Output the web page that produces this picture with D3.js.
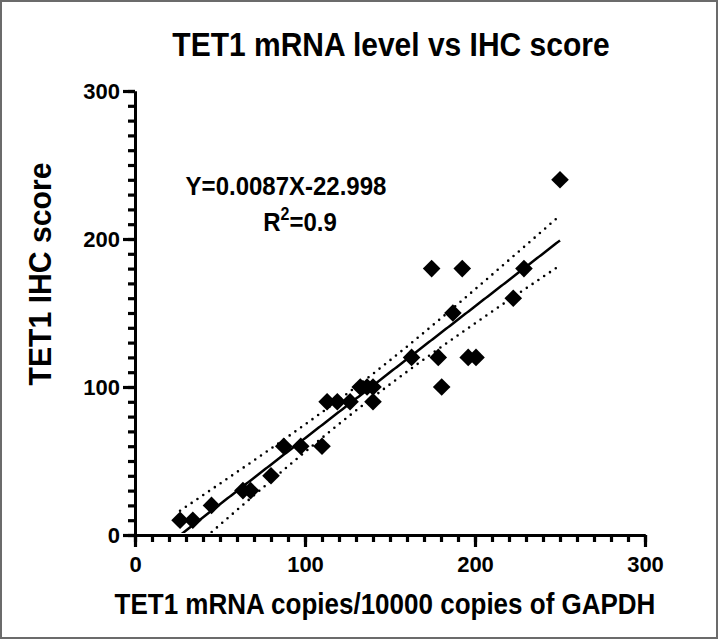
<!DOCTYPE html>
<html>
<head>
<meta charset="utf-8">
<script src="https://cdn.jsdelivr.net/npm/d3@7"></script>
<style>
  html, body { margin: 0; padding: 0; background: #fff; }
  svg { display: block; }
  text { font-family: "Liberation Sans", Arial, sans-serif; font-weight: bold; fill: #000; }
</style>
</head>
<body>
<script>
// ---- data ----
const mrnaCopies = [26.5, 34, 45, 63.5, 68, 80, 87.5, 97.5, 110, 113, 119, 126.5, 132.5, 136.5, 140, 140,
                    162.7, 174.5, 178.4, 180.4, 187, 192.5, 196, 200.6, 222.5, 228.8, 250];
const ihcScore   = [10, 10, 20, 30, 30, 40, 60, 60, 60, 90, 90, 90, 100, 100, 100, 90,
                    120, 180, 120, 100, 150, 180, 120, 120, 160, 180, 240];
const xTicks = [0, 100, 200, 300];
const yTicks = [0, 100, 200, 300];
const titleText = "TET1 mRNA level vs IHC score";
const xLabel = "TET1 mRNA copies/10000 copies of GAPDH";
const yLabel = "TET1 IHC score";
const equationText = "Y=0.0087X-22.998";
const r2Value = "=0.9";

const W = 719, H = 642;
const svg = d3.select("body").append("svg").attr("width", W).attr("height", H);

// border
svg.append("rect").attr("x", 1).attr("y", 1).attr("width", W - 3).attr("height", H - 5)
  .attr("fill", "#fff").attr("stroke", "#6b6b6b").attr("stroke-width", 2);

const x = d3.scaleLinear().domain([0, 300]).range([135, 645]);
const y = d3.scaleLinear().domain([0, 300]).range([535, 91]);

// axes: minor ticks
const minorVals = d3.range(0, 301, 10);
const gxMinor = svg.append("g").attr("transform", `translate(0,${y(0)})`)
  .call(d3.axisBottom(x).tickValues(minorVals).tickSize(7).tickSizeOuter(0).tickFormat(""));
const gyMinor = svg.append("g").attr("transform", `translate(${x(0)},0)`)
  .call(d3.axisLeft(y).tickValues(minorVals).tickSize(7).tickSizeOuter(0).tickFormat(""));
// major ticks
const gx = svg.append("g").attr("transform", `translate(0,${y(0)})`)
  .call(d3.axisBottom(x).tickValues(xTicks).tickSize(12).tickSizeOuter(0).tickPadding(9));
const gy = svg.append("g").attr("transform", `translate(${x(0)},0)`)
  .call(d3.axisLeft(y).tickValues(yTicks).tickSize(12).tickSizeOuter(0).tickPadding(3));

[gxMinor, gyMinor, gx, gy].forEach(g => {
  g.selectAll("path.domain").attr("stroke", "#000").attr("stroke-width", 3);
  g.selectAll(".tick line").attr("stroke", "#000").attr("stroke-width", 3.2);
  g.selectAll(".tick text").style("font-size", "22px").style("font-family", "Liberation Sans, Arial, sans-serif")
    .style("font-weight", "bold").attr("fill", "#000");
});
gy.selectAll(".tick text").attr("dy", "0.36em");

// ---- regression & 95% CI from data ----
const n = mrnaCopies.length;
const xbar = d3.mean(mrnaCopies), ybar = d3.mean(ihcScore);
let sxx = 0, sxy = 0;
for (let i = 0; i < n; i++) { sxx += (mrnaCopies[i] - xbar) ** 2; sxy += (mrnaCopies[i] - xbar) * (ihcScore[i] - ybar); }
const slope = sxy / sxx, intercept = ybar - slope * xbar;
let sse = 0;
for (let i = 0; i < n; i++) sse += (ihcScore[i] - (intercept + slope * mrnaCopies[i])) ** 2;
const s = Math.sqrt(sse / (n - 2));
const tcrit = 2.06;
const xmin = d3.min(mrnaCopies), xmax = d3.max(mrnaCopies);
const xs = d3.range(0, 201).map(i => xmin + (xmax - xmin) * i / 200);
const fit = xs.map(v => ({ x: v, y: intercept + slope * v }));
const half = v => tcrit * s * Math.sqrt(1 / n + (v - xbar) ** 2 / sxx);
const upper = xs.map(v => ({ x: v, y: intercept + slope * v + half(v) }));
const lower = xs.map(v => ({ x: v, y: intercept + slope * v - half(v) }));

svg.append("clipPath").attr("id", "plotclip").append("rect")
  .attr("x", x(0)).attr("y", y(300)).attr("width", x(300) - x(0)).attr("height", y(0) - y(300) - 2);

const line = d3.line().x(d => x(d.x)).y(d => y(d.y));
const plot = svg.append("g").attr("clip-path", "url(#plotclip)");
plot.append("path").datum(fit).attr("d", line).attr("fill", "none").attr("stroke", "#000").attr("stroke-width", 2.5);
[upper, lower].forEach(band => {
  plot.append("path").datum(band).attr("d", line).attr("fill", "none").attr("stroke", "#000")
    .attr("stroke-width", 2.6).attr("stroke-linecap", "round").attr("stroke-dasharray", "0 7");
});

// points (diamonds)
const diamond = d3.symbol().type(d3.symbolSquare).size(155);
svg.append("g").selectAll("path").data(mrnaCopies.map((v, i) => [v, ihcScore[i]])).join("path")
  .attr("d", diamond)
  .attr("transform", d => `translate(${x(d[0])},${y(d[1])}) rotate(45)`)
  .attr("fill", "#000");

// texts (slightly taller glyphs, as in the reference)
svg.append("text").attr("transform", "translate(391,56) scale(1,1.12)").attr("text-anchor", "middle")
  .style("font-size", "30px").text(titleText);
svg.append("text").attr("transform", "translate(385,614) scale(1,1.1)").attr("text-anchor", "middle")
  .style("font-size", "26px").text(xLabel);
svg.append("text").attr("transform", "translate(51,274) rotate(-90) scale(1.04,1.08)").attr("text-anchor", "middle")
  .style("font-size", "29px").text(yLabel);
svg.append("text").attr("transform", "translate(286,195) scale(1,1.1)").attr("text-anchor", "middle")
  .style("font-size", "24px").text(equationText);
const r2 = svg.append("text").attr("transform", "translate(300,231) scale(1,1.1)").attr("text-anchor", "middle").style("font-size", "24px");
r2.append("tspan").text("R");
r2.append("tspan").attr("dy", -10).style("font-size", "16px").text("2");
r2.append("tspan").attr("dy", 10).text(r2Value);
</script>
</body>
</html>
